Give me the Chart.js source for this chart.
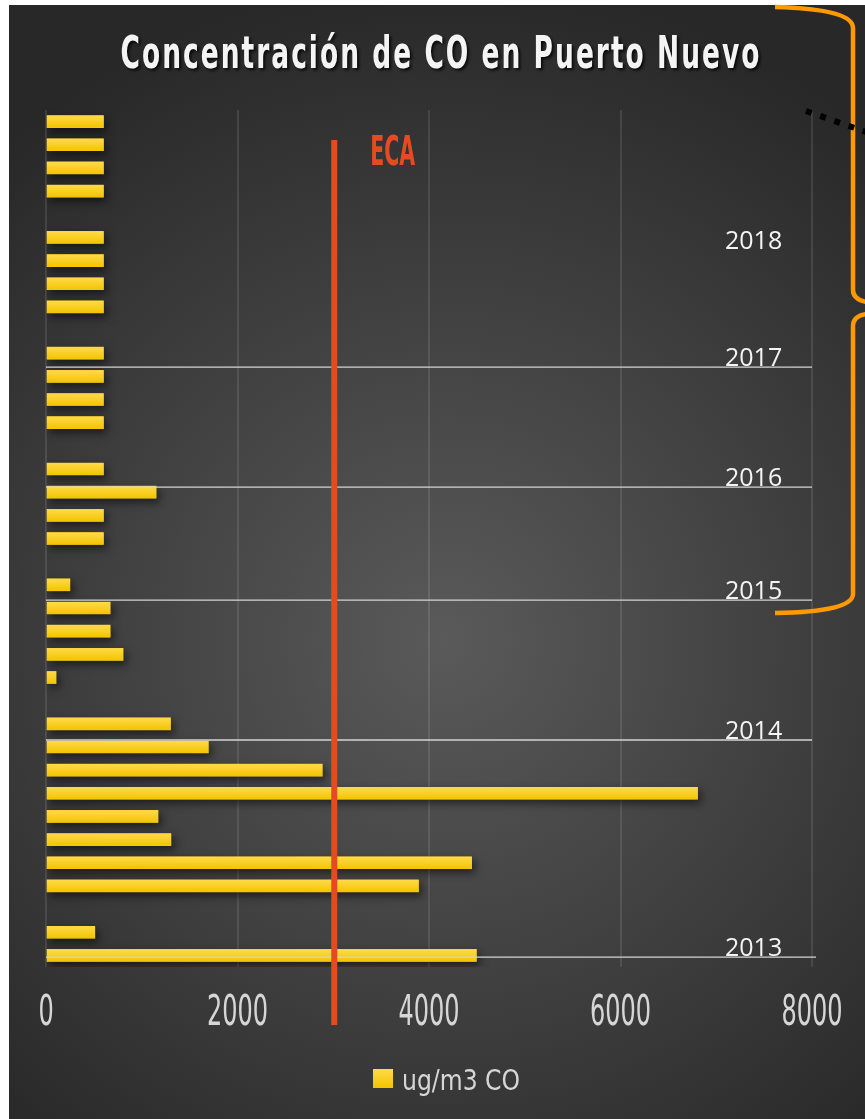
<!DOCTYPE html>
<html>
<head>
<meta charset="utf-8">
<script src="https://cdn.jsdelivr.net/npm/chart.js@4/dist/chart.umd.min.js"></script>
<style>
  html, body { margin: 0; padding: 0; background: #fff; }
  canvas { display: block; }
</style>
</head>
<body>
<canvas id="coChart" width="865" height="1119"></canvas>
<script>
// Data, top bar first (null = empty slot between years)
const coValues = [
    600, 600, 600, 600, null,
    600, 600, 600, 600, null,
    600, 600, 600, 600, null,
    600, 1150, 600, 600, null,
    250, 670, 670, 805, 105, null,
    1300, 1695, 2885, 6805, 1170, 1305, 4445, 3890, null,
    510, 4495
];
const categories = coValues.map((_, i) => String(i + 1));
const xTicks = [0, 2000, 4000, 6000, 8000];
const ecaValue = 3000;
const yearLabels = ['2018', '2017', '2016', '2015', '2014', '2013'];
const yearPos = [5.54, 10.6, 15.78, 20.66, 26.7, 36.07]; // in category slots
const yearHasLine = [false, true, true, true, true, true];

const titleText = 'Concentración de CO en Puerto Nuevo';
const seriesName = 'ug/m3 CO';

const narrow = '"Liberation Sans Narrow", "DejaVu Sans Condensed", sans-serif';

// draw text squeezed to a given width
function fitText(ctx, text, x, y, width, font, color, align) {
    ctx.save();
    ctx.font = font;
    const w = ctx.measureText(text).width;
    ctx.translate(x, y);
    ctx.scale(width / w, 1);
    ctx.textAlign = align;
    ctx.textBaseline = 'alphabetic';
    ctx.fillStyle = color;
    ctx.fillText(text, 0, 0);
    ctx.restore();
}

const decor = {
    id: 'decor',
    beforeDraw(chart) {
        const { ctx, width, height } = chart;
        ctx.save();
        ctx.fillStyle = '#ffffff';
        ctx.fillRect(0, 0, width, height);
        const g = ctx.createRadialGradient(445, 640, 0, 445, 640, 660);
        g.addColorStop(0, '#5a5a5a');
        g.addColorStop(1, '#282828');
        ctx.fillStyle = g;
        ctx.fillRect(9, 5, width - 9, height - 5);
        ctx.restore();
    },
    beforeDatasetDraw(chart) {
        const ctx = chart.ctx;
        ctx.save();
        ctx.shadowColor = 'rgba(0,0,0,0.55)';
        ctx.shadowBlur = 8;
        ctx.shadowOffsetX = 3;
        ctx.shadowOffsetY = 4;
    },
    afterDatasetDraw(chart, args) {
        const ctx = chart.ctx;
        ctx.restore();
        // glossy gradient on each bar, using the bar elements' geometry
        chart.getDatasetMeta(args.index).data.forEach(el => {
            if (el.skip || isNaN(el.x)) return;
            const h = el.height;
            const top = el.y - h / 2;
            const g = ctx.createLinearGradient(0, top, 0, top + h);
            g.addColorStop(0, '#ffda4a');
            g.addColorStop(1, '#f3c400');
            ctx.fillStyle = g;
            ctx.fillRect(Math.min(el.base, el.x), top, Math.abs(el.x - el.base), h);
        });
    },
    afterDatasetsDraw(chart) {
        const { ctx, chartArea } = chart;
        const x = chart.scales.x;
        const y = chart.scales.y;

        // year lines and labels
        ctx.save();
        yearLabels.forEach((lab, i) => {
            const py = y.getPixelForValue(yearPos[i]);
            if (yearHasLine[i]) {
                ctx.strokeStyle = '#d4d4d4';
                ctx.lineWidth = 1.3;
                ctx.beginPath();
                ctx.moveTo(chartArea.left, py);
                ctx.lineTo(chartArea.right + (i === yearLabels.length - 1 ? 4 : 0), py);
                ctx.stroke();
            }
            ctx.font = '25px "Open Sans", "Noto Sans", sans-serif';
            ctx.fillStyle = '#f4f4f4';
            ctx.textAlign = 'left';
            ctx.textBaseline = 'alphabetic';
            ctx.fillText(lab, chartArea.right - 87, py - 1);
        });
        ctx.restore();

        // ECA limit line
        const ex = x.getPixelForValue(ecaValue);
        ctx.save();
        ctx.fillStyle = '#e64a22';
        ctx.fillRect(ex - 2, chartArea.top + 30, 6, chartArea.bottom - chartArea.top + 28);
        ctx.restore();
        fitText(ctx, 'ECA', ex + 37, chartArea.top + 55, 45, 'bold 40px ' + narrow, '#e64a22', 'left');

        // x tick labels
        ctx.save();
        ctx.font = '42px ' + narrow;
        const s = 61 / ctx.measureText('2000').width;
        ctx.restore();
        xTicks.forEach(v => {
            ctx.save();
            ctx.font = '42px ' + narrow;
            ctx.translate(x.getPixelForValue(v), chartArea.bottom + 58);
            ctx.scale(s, 1);
            ctx.textAlign = 'center';
            ctx.fillStyle = '#d6d6d6';
            ctx.fillText(String(v), 0, 0);
            ctx.restore();
        });

        // legend
        ctx.save();
        const lg = ctx.createLinearGradient(0, 1069, 0, 1088);
        lg.addColorStop(0, '#ffda4a');
        lg.addColorStop(1, '#f3c400');
        ctx.fillStyle = lg;
        ctx.fillRect(373, 1069, 20, 19);
        ctx.restore();
        fitText(ctx, seriesName, 402, 1090, 118, '29px ' + narrow, '#d6d6d6', 'left');

        // title
        ctx.save();
        ctx.shadowColor = 'rgba(0,0,0,0.8)';
        ctx.shadowBlur = 3;
        ctx.shadowOffsetX = 2;
        ctx.shadowOffsetY = 2;
        ctx.letterSpacing = '3px';
        fitText(ctx, titleText, 441, 68, 641, 'bold 44px ' + narrow, '#f4f4f4', 'center');
        ctx.restore();

        // orange braces
        ctx.save();
        ctx.strokeStyle = '#ff9900';
        ctx.lineWidth = 4.5;
        ctx.lineCap = 'butt';
        ctx.beginPath();
        ctx.moveTo(775, 7);
        ctx.quadraticCurveTo(853, 9, 853, 28);
        ctx.lineTo(853, 290);
        ctx.quadraticCurveTo(853, 299, 866, 302);
        ctx.stroke();
        ctx.beginPath();
        ctx.moveTo(866, 314);
        ctx.quadraticCurveTo(853, 316, 853, 326);
        ctx.lineTo(853, 594);
        ctx.quadraticCurveTo(853, 612, 775, 613);
        ctx.stroke();

        // black dotted line
        ctx.strokeStyle = '#000';
        ctx.lineWidth = 6;
        ctx.setLineDash([6, 9]);
        ctx.beginPath();
        ctx.moveTo(806, 111);
        ctx.lineTo(872, 134);
        ctx.stroke();
        ctx.restore();
    }
};

new Chart(document.getElementById('coChart'), {
    type: 'bar',
    data: {
        labels: categories,
        datasets: [{
            label: seriesName,
            data: coValues,
            backgroundColor: '#fbcf1c',
            borderWidth: 0,
            barThickness: 12
        }]
    },
    options: {
        indexAxis: 'y',
        responsive: false,
        animation: false,
        devicePixelRatio: 1,
        layout: { padding: { top: 110, bottom: 152, left: 46, right: 53 } },
        plugins: {
            legend: { display: false },
            title: { display: false },
            tooltip: { enabled: false }
        },
        scales: {
            x: {
                min: 0,
                max: 8000,
                ticks: { display: false, stepSize: 2000 },
                grid: { color: 'rgba(255,255,255,0.1)', lineWidth: 2, drawTicks: false },
                border: { display: false }
            },
            y: { display: false }
        }
    },
    plugins: [decor]
});
</script>
</body>
</html>
